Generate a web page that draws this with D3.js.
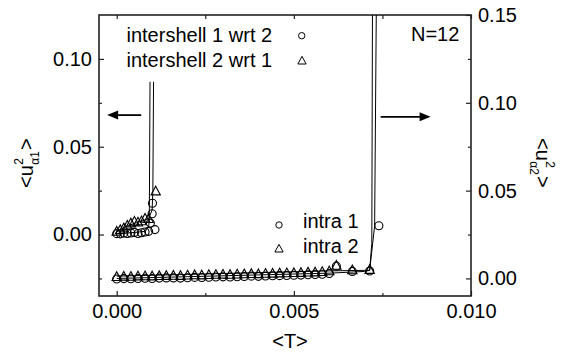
<!DOCTYPE html>
<html>
<head>
<meta charset="utf-8">
<script src="https://cdn.jsdelivr.net/npm/d3@7"></script>
<style>
  body { margin: 0; background: #fff; }
  svg text { font-family: "Liberation Sans", Arial, sans-serif; fill: #000; }
</style>
</head>
<body>
<svg id="chart" width="566" height="358"></svg>
<script>
// intershell series (left axis)
const interT1 = [0.0000, 0.0001, 0.0002, 0.0003, 0.0004, 0.0005, 0.0006, 0.0007, 0.0008, 0.0009, 0.00095, 0.00100, 0.00101, 0.00108];
const inter1  = [0.0005, 0.0004, 0.0008, 0.0006, 0.0009, 0.0012, 0.0006, 0.0010, 0.0014, 0.0018, 0.0065, 0.0118, 0.0178, 0.0028];
const interT2 = [0.0000, 0.0001, 0.0002, 0.0003, 0.0004, 0.0005, 0.0006, 0.0007, 0.0008, 0.0009, 0.0011];
const inter2  = [0.0016, 0.0025, 0.0035, 0.0050, 0.0063, 0.0073, 0.0068, 0.0075, 0.0090, 0.0088, 0.0245];

// intrashell series (right axis)
const intraT = [0.0000, 0.0002, 0.0004, 0.0006, 0.0008, 0.0010, 0.0012, 0.0014, 0.0016, 0.0018,
                0.0020, 0.0022, 0.0024, 0.0026, 0.0028, 0.0030, 0.0032, 0.0034, 0.0036, 0.0038,
                0.0040, 0.0042, 0.0044, 0.0046, 0.0048, 0.0050, 0.0052, 0.0054, 0.0056, 0.0058,
                0.0060, 0.0062, 0.00665, 0.00714];
const intra2 = [0.0008, 0.0010, 0.0009, 0.0011, 0.0012, 0.0011, 0.0013, 0.0014, 0.0015, 0.0014,
                0.0016, 0.0018, 0.0017, 0.0019, 0.0020, 0.0021, 0.0020, 0.0022, 0.0023, 0.0025,
                0.0024, 0.0026, 0.0027, 0.0028, 0.0029, 0.0030, 0.0031, 0.0033, 0.0034, 0.0036,
                0.0040, 0.0072, 0.0046, 0.0048];
const intra1 = [-0.0003, -0.0001, -0.0002, 0.0000, 0.0001, 0.0000, 0.0002, 0.0003, 0.0003, 0.0002,
                0.0004, 0.0006, 0.0005, 0.0007, 0.0008, 0.0009, 0.0008, 0.0010, 0.0011, 0.0013,
                0.0012, 0.0014, 0.0015, 0.0016, 0.0017, 0.0018, 0.0019, 0.0021, 0.0022, 0.0024,
                0.0028, 0.0070, 0.0040, 0.0042];
const intra1ExtraT = [0.0074];
const intra1Extra  = [0.030];

// fitted curves (diverging)
const fitInterAT = [0.0000, 0.0004, 0.0008, 0.0009, 0.00092, 0.00094];
const fitInterA  = [0.0006, 0.0010, 0.0018, 0.0040, 0.0090, 0.087];
const fitInterBT = [0.0000, 0.0003, 0.0006, 0.0009, 0.0010, 0.00102, 0.00104];
const fitInterB  = [0.0016, 0.0050, 0.0070, 0.0090, 0.0140, 0.0250, 0.087];
const fitIntraCT = [0.0000, 0.0020, 0.0040, 0.0060, 0.0070, 0.00714, 0.00720, 0.00722];
const fitIntraC  = [0.0000, 0.0010, 0.0020, 0.0030, 0.0040, 0.0046, 0.020, 0.16];
const fitIntraDT = [0.0000, 0.0020, 0.0040, 0.0060, 0.0070, 0.00714, 0.00728, 0.00733];
const fitIntraD  = [0.0013, 0.0023, 0.0033, 0.0043, 0.0046, 0.0046, 0.030, 0.16];

const xMajor = [0, 0.005, 0.010];
const xMinor = [0.0025, 0.0075];
const yLeftMajor = [0.00, 0.05, 0.10];
const yLeftMinor = [-0.025, 0.025, 0.075];
const yRightMajor = [0.00, 0.05, 0.10, 0.15];
const yRightMinor = [0.025, 0.075, 0.125];

const plot = { left: 99, right: 471, top: 15, bottom: 296 };
const FS = 20;

const svg = d3.select("#chart");

const x = d3.scaleLinear().domain([-0.0005, 0.010]).range([plot.left, plot.right]);
const yL = d3.scaleLinear().domain([-0.035, 0.125]).range([plot.bottom, plot.top]);
const yR = d3.scaleLinear().domain([-0.01, 0.15]).range([plot.bottom, plot.top]);

svg.append("defs").append("clipPath").attr("id", "clip")
  .append("rect")
  .attr("x", plot.left).attr("y", plot.top)
  .attr("width", plot.right - plot.left).attr("height", plot.bottom - plot.top);

// axes, ticks pointing inward
function styleAxis(g) {
  g.select(".domain").remove();
  g.selectAll(".tick line").attr("stroke", "#222").attr("stroke-width", 1.2);
  g.selectAll(".tick text").style("font-size", FS + "px").attr("fill", "#000");
}

svg.append("g").attr("transform", `translate(0,${plot.bottom})`)
  .call(d3.axisBottom(x).tickValues(xMajor).tickSize(-5).tickPadding(8).tickFormat(d3.format(".3f")))
  .call(styleAxis);
svg.append("g").attr("transform", `translate(0,${plot.bottom})`)
  .call(d3.axisBottom(x).tickValues(xMinor).tickSize(-3).tickFormat(""))
  .call(styleAxis);
svg.append("g").attr("transform", `translate(0,${plot.top})`)
  .call(d3.axisTop(x).tickValues(xMajor.concat(xMinor)).tickSize(-4).tickFormat(""))
  .call(styleAxis);

svg.append("g").attr("transform", `translate(${plot.left},0)`)
  .call(d3.axisLeft(yL).tickValues(yLeftMajor).tickSize(-5).tickPadding(7).tickFormat(d3.format(".2f")))
  .call(styleAxis);
svg.append("g").attr("transform", `translate(${plot.left},0)`)
  .call(d3.axisLeft(yL).tickValues(yLeftMinor).tickSize(-3).tickFormat(""))
  .call(styleAxis);

svg.append("g").attr("transform", `translate(${plot.right},0)`)
  .call(d3.axisRight(yR).tickValues(yRightMajor).tickSize(-5).tickPadding(7).tickFormat(d3.format(".2f")))
  .call(styleAxis);
svg.append("g").attr("transform", `translate(${plot.right},0)`)
  .call(d3.axisRight(yR).tickValues(yRightMinor).tickSize(-3).tickFormat(""))
  .call(styleAxis);

// frame
svg.append("rect")
  .attr("x", plot.left).attr("y", plot.top)
  .attr("width", plot.right - plot.left).attr("height", plot.bottom - plot.top)
  .attr("fill", "none").attr("stroke", "#222").attr("stroke-width", 1.6);

// fit curves
const zip = (ts, vs) => ts.map((t, i) => [t, vs[i]]);
const lineL = d3.line().x(d => x(d[0])).y(d => yL(d[1]));
const lineR = d3.line().x(d => x(d[0])).y(d => yR(d[1]));
const curves = svg.append("g").attr("clip-path", "url(#clip)")
  .attr("fill", "none").attr("stroke", "#000").attr("stroke-width", 1);
curves.append("path").attr("d", lineL(zip(fitInterAT, fitInterA)));
curves.append("path").attr("d", lineL(zip(fitInterBT, fitInterB)));
curves.append("path").attr("d", lineR(zip(fitIntraCT, fitIntraC)));
curves.append("path").attr("d", lineR(zip(fitIntraDT, fitIntraD)));

// symbols
const triPath = s => `M0,${-s * 0.62}L${s * 0.55},${s * 0.4}L${-s * 0.55},${s * 0.4}Z`;
const marks = svg.append("g").attr("fill", "none").attr("stroke", "#000").attr("stroke-width", 1.1);

function circles(ts, vs, y) {
  marks.append("g").selectAll("circle").data(zip(ts, vs)).join("circle")
    .attr("cx", d => x(d[0])).attr("cy", d => y(d[1])).attr("r", 4);
}
function triangles(ts, vs, y) {
  marks.append("g").selectAll("path").data(zip(ts, vs)).join("path")
    .attr("transform", d => `translate(${x(d[0])},${y(d[1])})`)
    .attr("d", triPath(8.5));
}
triangles(interT2, inter2, yL);
circles(interT1, inter1, yL);
triangles(intraT, intra2, yR);
circles(intraT, intra1, yR);
circles(intra1ExtraT, intra1Extra, yR);

// legends
const legend = svg.append("g").style("font-size", FS + "px");
legend.append("text").attr("x", 126.5).attr("y", 41.7).text("intershell 1 wrt 2");
legend.append("text").attr("x", 126.5).attr("y", 66.7).text("intershell 2 wrt 1");
legend.append("circle").attr("cx", 301.7).attr("cy", 35.7).attr("r", 3.2)
  .attr("fill", "none").attr("stroke", "#000");
legend.append("path").attr("transform", "translate(302,61)").attr("d", triPath(7.5))
  .attr("fill", "none").attr("stroke", "#000");
legend.append("text").attr("x", 303).attr("y", 228.3).text("intra 1");
legend.append("text").attr("x", 303).attr("y", 253.3).text("intra 2");
legend.append("circle").attr("cx", 279).attr("cy", 225).attr("r", 3.2)
  .attr("fill", "none").attr("stroke", "#000");
legend.append("path").attr("transform", "translate(279,249)").attr("d", triPath(7.5))
  .attr("fill", "none").attr("stroke", "#000");
legend.append("text").attr("x", 411).attr("y", 40.7).text("N=12");

// arrows pointing to the relevant axis
function arrow(t0, t1, v, y) {
  const x0 = x(t0), x1 = x(t1), yy = y(v);
  const dir = Math.sign(x1 - x0);
  svg.append("line").attr("x1", x0).attr("y1", yy).attr("x2", x1 - dir * 8).attr("y2", yy)
    .attr("stroke", "#000").attr("stroke-width", 1.8);
  svg.append("path")
    .attr("d", `M${x1},${yy}L${x1 - dir * 11},${yy - 4.5}L${x1 - dir * 11},${yy + 4.5}Z`)
    .attr("fill", "#000");
}
arrow(0.00069, -0.00027, 0.068, yL);
arrow(0.00745, 0.00886, 0.092, yR);

// axis titles
svg.append("text").attr("x", 290).attr("y", 348).attr("text-anchor", "middle")
  .style("font-size", FS + "px").text("<T>");

function yTitle(tx, ty, angle, sub) {
  const g = svg.append("g").attr("transform", `translate(${tx},${ty}) rotate(${angle})`)
    .style("font-size", FS + "px");
  const a = g.append("text").attr("x", 0).attr("y", 0).text("<u");
  const w = a.node().getComputedTextLength();
  g.append("text").attr("x", w + 0.5).attr("y", -10).style("font-size", "12px").text("2");
  const s = g.append("text").attr("x", w + 0.5).attr("y", 6).style("font-size", "12px").text(sub);
  const ws = s.node().getComputedTextLength();
  g.append("text").attr("x", w + ws + 1.5).attr("y", 0).text(">");
}
yTitle(33, 188, -90, "\u03b11");
yTitle(536, 138, 90, "\u03b12");
</script>
</body>
</html>
